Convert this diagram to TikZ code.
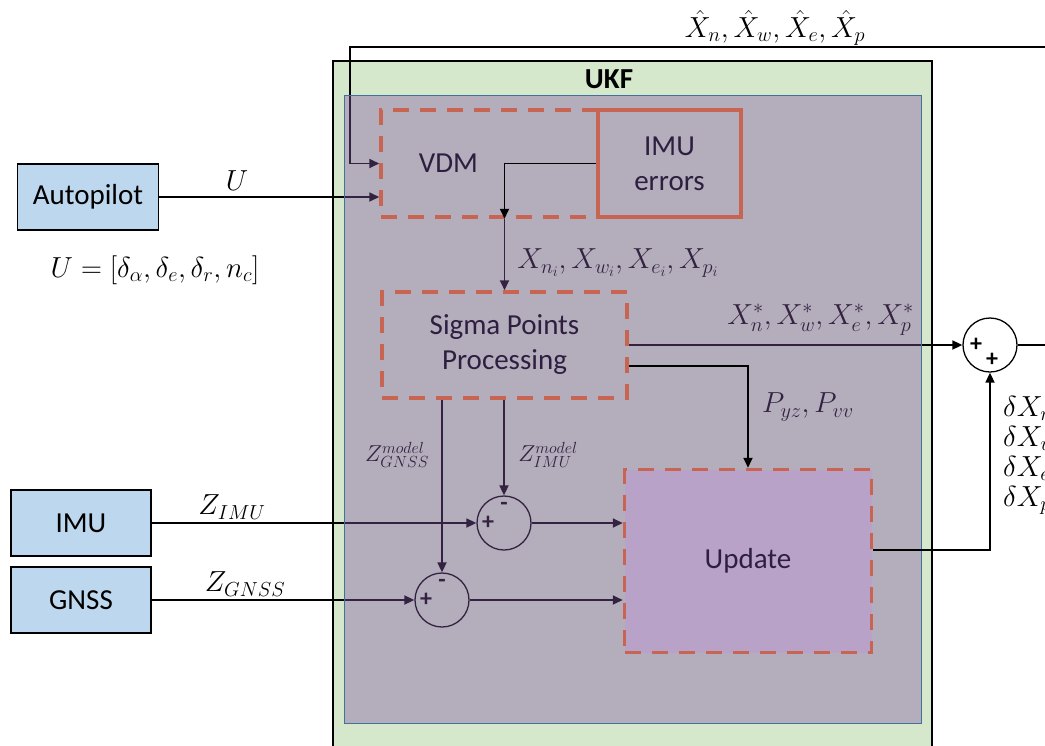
\RequirePackage{fix-cm}
\documentclass[tikz,border=0pt]{standalone}
\usepackage{fontspec}
\setmainfont{Carlito}
\usepackage{tikz}
\usetikzlibrary{arrows.meta}
\definecolor{leaf}{RGB}{213,232,204}
\definecolor{sky}{RGB}{189,215,238}
\definecolor{rust}{RGB}{200,100,82}
\definecolor{haze}{RGB}{130,85,164}
\definecolor{lilac}{RGB}{185,162,200}
\definecolor{steel}{RGB}{65,113,156}
\definecolor{ink}{RGB}{46,31,64}
\pgfdeclarelayer{back}
\pgfdeclarelayer{veil}
\pgfdeclarelayer{front}
\pgfsetlayers{back,main,veil,front}

\begin{document}
\begin{tikzpicture}[
  x=1pt,y=-1pt,
  sensor/.style={draw,line width=1.2pt,fill=sky,minimum width=140pt,
    minimum height=66pt,font=\fontsize{29}{35}\selectfont},
  proc/.style={draw=rust,line width=3.5pt,dash pattern=on 16pt off 11pt,
    text=ink,align=center,font=\fontsize{29}{35}\selectfont},
  junc/.style={circle,draw,line width=1.3pt,minimum size=54pt,inner sep=0pt},
  sgn/.style={font=\bfseries\fontsize{24}{24}\selectfont,inner sep=0pt},
  flow/.style={-{Triangle[length=10pt,width=9pt]},line width=1.7pt},
  mlab/.style={font=\fontsize{29}{31}\selectfont,inner sep=0pt},
  slab/.style={font=\fontsize{23}{26}\selectfont,inner sep=0pt}]
\useasboundingbox (0,0) rectangle (1045,745);
\begin{pgfonlayer}{back}
\draw[line width=1.3pt,fill=leaf] (333,61) rectangle (932,790);
\end{pgfonlayer}
\begin{pgfonlayer}{veil}
\draw[steel,line width=1pt,fill=haze,fill opacity=.4] (344,95) rectangle (921,723);
\end{pgfonlayer}
\node[font=\bfseries\fontsize{29}{35}\selectfont] (ukf) at (609,79) {UKF};
% sources
\node[sensor,minimum width=141pt] (auto) at (88,197) {Autopilot};
\node[sensor] (imu) at (81,523) {IMU};
\node[sensor] (gnss) at (81,600) {GNSS};
% summing points
\node[junc] (simu) at (504,523) {};
\node[junc] (sgnss) at (442,600) {};
\node[junc,fill=white] (sout) at (990,345) {};
\node[sgn] at ([xshift=-16pt]simu.center) {+};
\node[sgn] at ([yshift=17pt]simu.center) {-};
\node[sgn] at ([xshift=-16pt]sgnss.center) {+};
\node[sgn] at ([yshift=17pt]sgnss.center) {-};
\node[sgn] at ([xshift=-14pt]sout.center) {+};
\node[sgn] at ([xshift=2pt,yshift=-15pt]sout.center) {+};
\coordinate (fbR) at (1060,47);
\coordinate (outR) at (1060,345);
% filter blocks
\begin{pgfonlayer}{front}
\node[proc,minimum width=217pt,minimum height=107pt,
  label={[xshift=-41pt,text=ink,font=\fontsize{29}{35}\selectfont]center:VDM}]
  (vdm) at (489.5,163.5) {};
\node[proc,solid,minimum width=143pt,minimum height=107pt] (imuerr) at (669.5,163.5) {IMU\\errors};
\node[proc,minimum width=245pt,minimum height=106pt] (sigma) at (504.5,345) {Sigma Points\\Processing};
\node[proc,fill=lilac,minimum width=247pt,minimum height=183pt] (update) at (748,561) {Update};
\draw[flow] (imuerr.west) -| (vdm.south -| sigma.north);
\draw[flow] ([yshift=-21pt]sigma.east) -| (update.north);
\draw[flow] ([yshift=11pt]update.east) -| (sout.south);
\end{pgfonlayer}
% signals
\draw[flow] (fbR) -| ([xshift=-29pt]vdm.west) -- (vdm.west);
\draw[flow] (auto.east) -- (auto.east -| vdm.west);
\draw[flow] (vdm.south -| sigma.north) -- (sigma.north);
\draw[flow] (sigma.east) -- (sout.west);
\draw[flow] (sigma.south -| simu.north) -- (simu.north);
\draw[flow] (sigma.south -| sgnss.north) -- (sgnss.north);
\draw[flow] (imu.east) -- (simu.west);
\draw[flow] (gnss.east) -- (sgnss.west);
\draw[flow] (simu.east) -- (simu.east -| update.west);
\draw[flow] (sgnss.east) -- (sgnss.east -| update.west);
\draw[line width=1.7pt] (sout.east) -- (outR);
% labels
\node[mlab] (lhat) at (775,28) {$\hat{X}_n,\hat{X}_w,\hat{X}_e,\hat{X}_p$};
\node[mlab] (lu) at (237,181) {$U$};
\node[mlab] (lueq) at (155,270) {$U=[\delta_\alpha,\delta_e,\delta_r,n_c]$};
\node[mlab] (lxi) at (618,263) {$X_{n_i},X_{w_i},X_{e_i},X_{p_i}$};
\node[mlab,anchor=east] (lxs) at (914,320) {$X_n^*,X_w^*,X_e^*,X_p^*$};
\node[mlab] (lp) at (808,407) {$P_{yz},P_{vv}$};
\node[mlab] (lzi) at (232,507) {$Z_{IMU}$};
\node[mlab] (lzg) at (245,584) {$Z_{GNSS}$};
\node[slab] (lzmg) at (397,455) {$Z_{GNSS}^{model}$};
\node[slab] (lzmi) at (548,455) {$Z_{IMU}^{model}$};
\node[mlab,anchor=north west,align=left,font=\fontsize{29}{30}\selectfont] (ldx) at (1003,396)
  {$\delta X_n,$\\$\delta X_w,$\\$\delta X_e,$\\$\delta X_p$};
\end{tikzpicture}
\end{document}
